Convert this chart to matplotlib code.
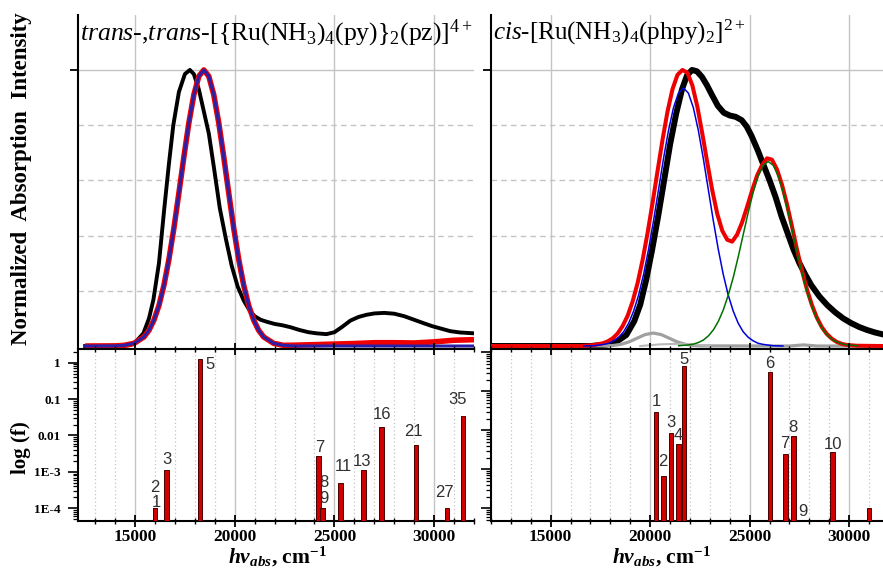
import matplotlib
matplotlib.use("Agg")
import matplotlib.pyplot as plt
from matplotlib.ticker import FixedLocator, FixedFormatter, NullFormatter, LogLocator, MultipleLocator
import numpy as np

plt.rcParams.update({
    'font.family': 'Liberation Serif',
    'mathtext.fontset': 'custom',
    'mathtext.rm': 'Liberation Serif',
    'mathtext.it': 'Liberation Serif:italic',
    'mathtext.bf': 'Liberation Serif:bold',
    'mathtext.bfit': 'Liberation Serif:italic:bold',
})

# ---------------- data ----------------
# left: trans,trans dimer spectra (normalized)
lk_x = [12500, 14000, 14750, 15000, 15420, 15700, 15920, 16200, 16470, 16700, 16920, 17200, 17500, 17750,
        17950, 18200, 18450, 18700, 18950, 19250, 19550, 19850, 20150, 20450, 20750, 21000, 21300, 21600,
        22000, 22400, 22800, 23250, 23700, 24100, 24600, 25000, 25400, 25800, 26200, 26600, 27000, 27500,
        28000, 28500, 29000, 29500, 29900, 30400, 30800, 31300, 32000]
lk_y = [0.0, 0.0, 0.003, 0.012, 0.046, 0.10, 0.167, 0.30, 0.50, 0.66, 0.80, 0.92, 0.985, 1.0,
        0.985, 0.93, 0.85, 0.77, 0.65, 0.50, 0.39, 0.29, 0.215, 0.165, 0.128, 0.108, 0.095, 0.088,
        0.08, 0.075, 0.068, 0.058, 0.05, 0.046, 0.043, 0.05, 0.07, 0.092, 0.105, 0.113, 0.118, 0.12,
        0.117, 0.108, 0.095, 0.082, 0.072, 0.062, 0.054, 0.049, 0.046]

lr_x = [12500, 14000, 14450, 14950, 15450, 15700, 15950, 16200, 16450, 16700, 16950, 17200, 17450, 17700,
        17950, 18200, 18450, 18700, 18950, 19200, 19450, 19700, 19950, 20200, 20450, 20700, 20950, 21200,
        21450, 21950, 22450, 23000, 24000, 25000, 26000, 27000, 28000, 29000, 30000, 31000, 32000]
lr_y = [0.0, 0.0005, 0.0024, 0.0097, 0.033, 0.057, 0.094, 0.147, 0.220, 0.314, 0.427, 0.554, 0.685, 0.808,
        0.910, 0.977, 1.0, 0.977, 0.910, 0.808, 0.685, 0.554, 0.427, 0.314, 0.220, 0.147, 0.094, 0.057,
        0.033, 0.0097, 0.0024, 0.003, 0.005, 0.007, 0.009, 0.012, 0.012, 0.011, 0.015, 0.021, 0.023]

lb_x = [12500, 14000, 14450, 14950, 15450, 15700, 15950, 16200, 16450, 16700, 16950, 17200, 17450, 17700,
        17950, 18200, 18450, 18700, 18950, 19200, 19450, 19700, 19950, 20200, 20450, 20700, 20950, 21200,
        21450, 21950, 22450, 23000, 32000]
lb_y = [0.0, 0.0005, 0.0024, 0.0097, 0.033, 0.057, 0.094, 0.147, 0.220, 0.314, 0.427, 0.554, 0.685, 0.808,
        0.910, 0.977, 1.0, 0.977, 0.910, 0.808, 0.685, 0.554, 0.427, 0.314, 0.220, 0.147, 0.094, 0.057,
        0.033, 0.0097, 0.0024, 0.0, 0.0]

# right: cis-[Ru(NH3)4(phpy)2]2+
rk_x = [12000, 17000, 17800, 18300, 18800, 19200, 19500, 19800, 20100, 20400, 20700, 21000, 21300, 21600,
        21850, 22100, 22350, 22600, 22850, 23100, 23400, 23700, 24000, 24300, 24600, 24850, 25100, 25400,
        25700, 26000, 26300, 26600, 26900, 27200, 27500, 27800, 28100, 28500, 28900, 29300, 29700, 30100,
        30500, 30900, 31300, 31700]
rk_y = [0.0, 0.0, 0.005, 0.015, 0.04, 0.09, 0.15, 0.24, 0.35, 0.47, 0.60, 0.73, 0.84, 0.93,
        0.98, 1.0, 0.995, 0.975, 0.945, 0.91, 0.87, 0.845, 0.835, 0.83, 0.818, 0.795, 0.76, 0.71,
        0.655, 0.60, 0.54, 0.47, 0.41, 0.35, 0.30, 0.258, 0.22, 0.18, 0.148, 0.122, 0.10, 0.083,
        0.069, 0.058, 0.049, 0.042]

rr_x = [12000, 16500, 17120, 17620, 17870, 18120, 18370, 18620, 18870, 19120, 19370, 19620, 19870, 20120,
        20370, 20620, 20870, 21120, 21370, 21620, 21870, 22120, 22370, 22620, 22870, 23120, 23370, 23620,
        23870, 24120, 24370, 24620, 24870, 25120, 25370, 25620, 25870, 26120, 26370, 26620, 26870, 27120,
        27370, 27620, 27870, 28120, 28370, 28620, 28870, 29120, 29370, 29620, 29870, 30370, 31700]
rr_y = [0.0, 0.0, 0.003, 0.01, 0.017, 0.028, 0.046, 0.073, 0.110, 0.162, 0.229, 0.312, 0.410, 0.519,
        0.634, 0.747, 0.849, 0.930, 0.982, 1.0, 0.99, 0.944, 0.867, 0.769, 0.664, 0.564, 0.479, 0.418,
        0.385, 0.378, 0.404, 0.448, 0.504, 0.563, 0.617, 0.655, 0.68, 0.675, 0.64, 0.585, 0.515, 0.435,
        0.352, 0.276, 0.207, 0.150, 0.104, 0.069, 0.044, 0.027, 0.015, 0.008, 0.004, 0.001, 0.0]

rb_x = [16670, 17170, 17670, 17920, 18170, 18420, 18670, 18920, 19170, 19420, 19670, 19920, 20170, 20420,
        20670, 20920, 21170, 21420, 21670, 21920, 22170, 22420, 22670, 22920, 23170, 23420, 23670, 23920,
        24170, 24420, 24670, 24920, 25170, 25420, 25670, 26170, 26670]
rb_y = [0.0, 0.001, 0.006, 0.010, 0.019, 0.032, 0.052, 0.083, 0.127, 0.185, 0.260, 0.351, 0.455, 0.567,
        0.679, 0.781, 0.863, 0.916, 0.935, 0.916, 0.863, 0.781, 0.679, 0.567, 0.455, 0.351, 0.260, 0.185,
        0.127, 0.083, 0.052, 0.032, 0.019, 0.010, 0.006, 0.001, 0.0]

rg_x = [21430, 21930, 22180, 22430, 22680, 22930, 23180, 23430, 23680, 23930, 24180, 24430, 24680, 24930,
        25180, 25430, 25680, 25930, 26180, 26430, 26680, 26930, 27180, 27430, 27680, 27930, 28180, 28430,
        28680, 28930, 29180, 29430, 29680, 29930, 30430]
rg_y = [0.001, 0.004, 0.007, 0.013, 0.022, 0.037, 0.059, 0.090, 0.132, 0.186, 0.250, 0.325, 0.405, 0.485,
        0.558, 0.617, 0.655, 0.668, 0.655, 0.617, 0.558, 0.485, 0.405, 0.325, 0.250, 0.186, 0.132, 0.090,
        0.059, 0.037, 0.022, 0.013, 0.007, 0.004, 0.001]

ry_x = [12000, 17750, 18150, 18550, 18950, 19350, 19750, 20150, 20550, 20950, 21350, 21750, 22150, 22550,
        27000, 27700, 28400, 31700]
ry_y = [0.0, 0.0005, 0.002, 0.0064, 0.0153, 0.0285, 0.0415, 0.047, 0.0415, 0.0285, 0.0153, 0.0064, 0.002,
        0.0005, 0.0, 0.004, 0.0, 0.0]

ry2_x = [19500, 20500, 21300, 22100, 23000]
ry2_y = [0.0, 0.006, 0.008, 0.006, 0.0]

# oscillator strengths (stick spectra)
lbar_x = [16000, 16000, 16580, 18250, 24200, 24400, 24400, 25300, 26450, 27370, 29100, 30640, 31440]
lbar_f = [1.0e-4, 1.0e-4, 1.1e-3, 1.24, 2.65e-3, 1.0e-4, 1.0e-4, 5.0e-4, 1.1e-3, 0.017, 5.5e-3, 1.0e-4, 0.035]
lbar_lab = ['1', '2', '3', '5', '7', '8', '9', '11', '13', '16', '21', '27', '35']

rbar_x = [20290, 20670, 21040, 21420, 21690, 26030, 26810, 27210, 27680, 29150, 31000]
rbar_f = [0.030, 6.9e-4, 8.7e-3, 4.5e-3, 0.45, 0.32, 2.4e-3, 7.2e-3, 1.0e-5, 2.7e-3, 1.0e-4]
rbar_lab = ['1', '2', '3', '4', '5', '6', '7', '8', '9', '10', '']

xticks_major = [15000, 20000, 25000, 30000]
xtick_labels = ['15000', '20000', '25000', '30000']
ytick_vals = [1e-4, 1e-3, 1e-2, 1e-1, 1]
ytick_labels = ['1E-4', '1E-3', '0.01', '0.1', '1']

title_left = r"$\mathit{trans}$-,$\mathit{trans}$-[{Ru(NH$_3$)$_4$(py)}$_2$(pz)]$^{4+}$"
title_right = r"$\mathit{cis}$-[Ru(NH$_3$)$_4$(phpy)$_2$]$^{2+}$"
xlabel_text = r"$\mathbfit{h\nu}_{\mathbfit{abs}}$, cm$^{\mathbf{-1}}$"

# label offsets (pixels: dx, dy of label centre relative to bar top) - styling only
lbar_off = [(1, 6), (0, 21), (0, 11), (10, -5), (1, 9), (1, 26), (1, 10), (3, 16), (-1, 9), (0, 13),
            (-3, 13), (-2, 16), (-5, 16)]
rbar_off = [(0, 10), (-1, 14), (0, 10), (0, 8), (0, 6), (0, 8), (-1, 11), (-1, 8), (0, -3), (1, 8), (0, 0)]

# ---------------- figure ----------------
W, H = 883, 571
fig = plt.figure(figsize=(W / 100, H / 100), dpi=100)


def rect(x0, x1, y0, y1):
    return [x0 / W, 1 - y1 / H, (x1 - x0) / W, (y1 - y0) / H]


ax_lt = fig.add_axes(rect(77.7, 474, 15, 348.5))
ax_lb = fig.add_axes(rect(77.7, 474, 348.5, 521))
ax_rt = fig.add_axes(rect(491, 883, 15, 348.5))
ax_rb = fig.add_axes(rect(491, 883, 348.5, 521))

GRID = '#c4c4c4'

for ax, xl in [(ax_lt, (12125, 32000)), (ax_rt, (12000, 31700))]:
    ax.set_xlim(*xl)
    ax.set_ylim(-0.009, 1.199)
    for s in ['top', 'right', 'bottom']:
        ax.spines[s].set_visible(False)
    ax.spines['left'].set_linewidth(1.5)
    ax.set_xticks(xticks_major)
    ax.tick_params(axis='x', length=0, labelbottom=False)
    ax.set_yticks([1.0])
    ax.set_yticks([0.2, 0.4, 0.6, 0.8], minor=True)
    ax.tick_params(axis='y', which='major', direction='out', length=6, width=1.3, labelleft=False)
    ax.tick_params(axis='y', which='minor', length=0)
    ax.grid(axis='x', which='major', color=GRID, lw=1.0)
    ax.grid(axis='y', which='major', color=GRID, lw=1.0)
    ax.grid(axis='y', which='minor', color=GRID, lw=1.0, ls=(0, (4, 3)))
    ax.set_axisbelow(True)

# left top curves
ax_lt.plot(lk_x, lk_y, color='black', lw=2.8, zorder=3)
ax_lt.plot(lr_x, lr_y, color='#ee0000', lw=4.0, zorder=4, solid_capstyle='butt')
ax_lt.plot(lb_x, lb_y, color='#2a1fa8', lw=2.2, zorder=5)

# right top curves
ax_rt.plot(rk_x, rk_y, color='black', lw=4.3, zorder=3)
ax_rt.plot(ry_x, ry_y, color='#a0a0a0', lw=2.3, zorder=4)
ax_rt.plot(ry2_x, ry2_y, color='#b8b8b8', lw=1.5, zorder=4)
ax_rt.plot(rr_x, rr_y, color='#ee0000', lw=2.9, zorder=5)
ax_rt.plot(rb_x, rb_y, color='#0000dd', lw=1.1, zorder=6)
ax_rt.plot(rg_x, rg_y, color='#007000', lw=1.1, zorder=6)

# titles
fig.text(80 / W, 1 - 40 / H, title_left, fontsize=18.5, ha='left', va='baseline')
fig.text(493 / W, 1 - 40 / H, title_right, fontsize=18, ha='left', va='baseline')

# bottom panels
for ax, xl, yl, bx, bf, blab, boff, showy in [
        (ax_lb, (12125, 32000), (10 ** -4.349, 10 ** 0.39), lbar_x, lbar_f, lbar_lab, lbar_off, True),
        (ax_rb, (12000, 31700), (10 ** -4.326, 10 ** 0.097), rbar_x, rbar_f, rbar_lab, rbar_off, False)]:
    ax.set_yscale('log')
    ax.set_xlim(*xl)
    ax.set_ylim(*yl)
    ax.spines['right'].set_visible(False)
    for s in ['left', 'top', 'bottom']:
        ax.spines[s].set_linewidth(1.5)
    ax.xaxis.set_major_locator(FixedLocator(xticks_major))
    ax.xaxis.set_major_formatter(FixedFormatter(xtick_labels))
    ax.xaxis.set_minor_locator(MultipleLocator(1000))
    ax.tick_params(axis='x', which='major', direction='inout', length=9, width=1.3, top=True, bottom=True,
                   labelsize=12.5, pad=1.5)
    ax.tick_params(axis='x', which='minor', direction='inout', length=5, width=1.0, top=True, bottom=True)
    ax.yaxis.set_major_locator(FixedLocator(ytick_vals))
    ax.yaxis.set_minor_locator(LogLocator(base=10, subs=np.arange(2, 10)))
    ax.yaxis.set_minor_formatter(NullFormatter())
    if showy:
        ax.yaxis.set_major_formatter(FixedFormatter(ytick_labels))
    else:
        ax.yaxis.set_major_formatter(NullFormatter())
    ax.tick_params(axis='y', which='major', direction='out', length=7, width=1.2, labelsize=9.5, pad=5)
    ax.tick_params(axis='y', which='minor', direction='out', length=3.5, width=0.9)
    for lab in ax.get_xticklabels() + ax.get_yticklabels():
        lab.set_fontweight('bold')
    ax.grid(axis='x', which='major', color=GRID, lw=1.0)
    ax.grid(axis='x', which='minor', color=GRID, lw=0.9, ls=(0, (1, 2)))
    ax.set_axisbelow(True)
    ax.bar(bx, bf, width=230, bottom=1e-8, color='#d00000', edgecolor='#4a0000', lw=0.7, zorder=3)
    for x, f, t, (dx, dy) in zip(bx, bf, blab, boff):
        if not t:
            continue
        ax.annotate(t, xy=(x, max(f, 1e-4)), xytext=(dx * 0.72, dy * 0.72), textcoords='offset points',
                    ha='center', va='center', fontsize=12, family='Liberation Sans', color='#303030',
                    annotation_clip=False, zorder=5)

# axis labels
fig.text(22 / W, 1 - 179 / H, 'Normalized  Absorption  Intensity', rotation=90, ha='center', va='center',
         fontsize=16.5, fontweight='bold')
fig.text(21 / W, 1 - 448 / H, 'log (f)', rotation=90, ha='center', va='center', fontsize=15,
         fontweight='bold')
fig.text(277 / W, 1 - 563 / H, xlabel_text, ha='center', va='baseline', fontsize=15.5, fontweight='bold')
fig.text(661 / W, 1 - 563 / H, xlabel_text, ha='center', va='baseline', fontsize=15.5, fontweight='bold')

fig.savefig('out.png', dpi=100)
